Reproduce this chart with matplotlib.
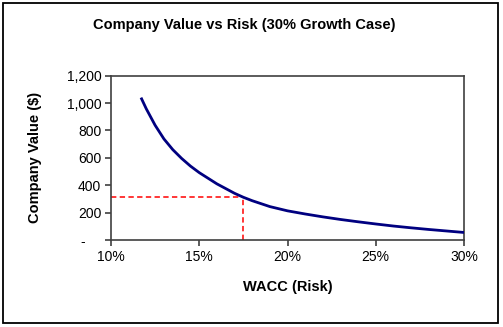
import matplotlib
matplotlib.use("Agg")
import matplotlib.pyplot as plt
from matplotlib.patches import Rectangle

# Discount rate (WACC) and resulting company value, 30% growth case
wacc = [0.117, 0.12, 0.125, 0.13, 0.135, 0.14, 0.145, 0.15, 0.16, 0.17, 0.175,
        0.18, 0.19, 0.20, 0.21, 0.22, 0.23, 0.24, 0.25, 0.26, 0.27, 0.28, 0.29, 0.30]
value = [1040, 958, 838, 738, 660, 596, 540, 492, 410, 341, 312,
         287, 244, 213, 190, 169, 150, 133, 117, 102, 89, 77, 66, 55]

# Highlighted case
marker_wacc = 0.175
marker_value = 312

x_ticks = [0.10, 0.15, 0.20, 0.25, 0.30]
x_tick_labels = ["10%", "15%", "20%", "25%", "30%"]
y_ticks = [0, 200, 400, 600, 800, 1000, 1200]
y_tick_labels = ["-    ", "200", "400", "600", "800", "1,000", "1,200"]

plt.rcParams["font.family"] = ["Liberation Sans", "DejaVu Sans"]

W, H = 503, 327
fig = plt.figure(figsize=(W / 100, H / 100), dpi=100)
fig.patch.set_facecolor("white")

# Chart frame
fig.patches.append(Rectangle((3 / W, 4 / H), 495 / W, 320 / H,
                             transform=fig.transFigure, fill=False,
                             edgecolor="black", linewidth=1.3))

ax = fig.add_axes([111 / W, (H - 240) / H, 353 / W, 164.3 / H])

ax.plot(wacc, value, color="#000080", linewidth=2.0, solid_capstyle="butt",
        solid_joinstyle="round", zorder=3)
ax.plot([0.10, marker_wacc], [marker_value, marker_value], color="#FF0000",
        linewidth=1.1, linestyle=(0, (3.5, 2.2)), zorder=2)
ax.plot([marker_wacc, marker_wacc], [0, marker_value], color="#FF0000",
        linewidth=1.1, linestyle=(0, (3.5, 2.2)), zorder=2)

ax.set_xlim(0.10, 0.30)
ax.set_ylim(0, 1200)
ax.set_xticks(x_ticks)
ax.set_xticklabels(x_tick_labels)
ax.set_yticks(y_ticks)
ax.set_yticklabels(y_tick_labels)

for s in ax.spines.values():
    s.set_color("#404040")
    s.set_linewidth(1.2)
ax.tick_params(axis="both", direction="out", length=4, width=1.2, color="#404040",
               labelsize=10, labelcolor="black", pad=3)

ax.set_xlabel("WACC (Risk)", fontsize=10.5, fontweight="bold", labelpad=12)
ax.set_ylabel("Company Value ($)", fontsize=10.5, fontweight="bold", labelpad=17.5)
fig.text(244 / W, 1 - 25 / H, "Company Value vs Risk (30% Growth Case)",
         ha="center", va="center", fontsize=10.5, fontweight="bold")

fig.savefig("out.png", dpi=100)
